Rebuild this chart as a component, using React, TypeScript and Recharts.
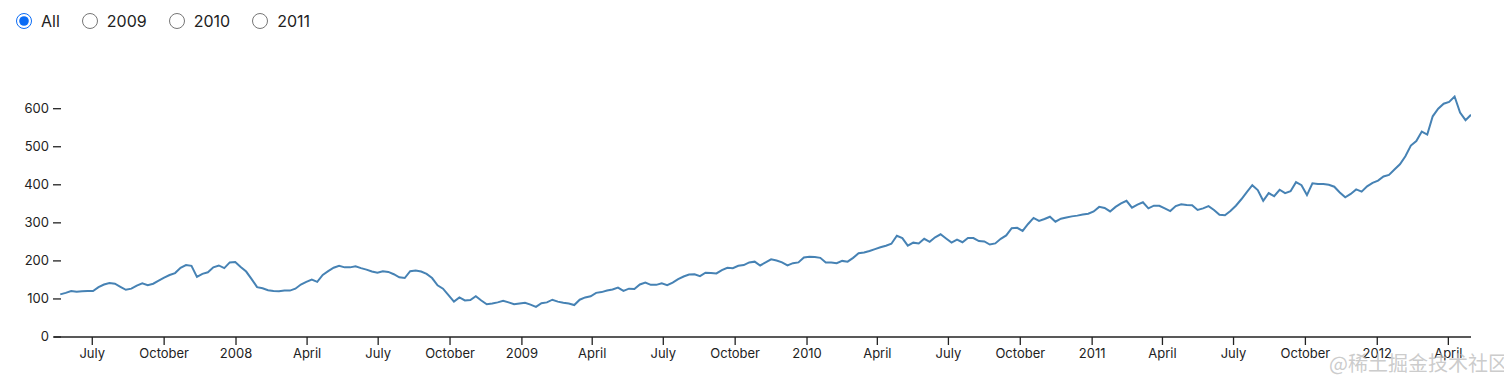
import { LineChart, Line, XAxis, YAxis } from "recharts";

// weekly closing prices, first week starting START_DATE
const START_DATE = "2007-05-21";
const DOMAIN_START = "2007-05-13";
const DOMAIN_END = "2012-04-30";

const closes = [
  112, 116, 121, 119, 120, 121, 121, 131, 138, 142,
  140, 132, 124, 127, 135, 141, 136, 140, 148, 156,
  163, 168, 182, 189, 187, 158, 166, 170, 183, 188,
  181, 196, 197, 184, 172, 152, 131, 128, 123, 121,
  120, 122, 122, 127, 138, 145, 151, 145, 163, 173,
  182, 187, 183, 183, 186, 181, 177, 172, 169, 173,
  171, 165, 157, 155, 173, 175, 172, 166, 155, 136,
  127, 110, 93, 104, 96, 97, 107, 96, 86, 88,
  91, 95, 91, 86, 88, 90, 85, 79, 89, 91,
  98, 93, 90, 88, 84, 98, 104, 107, 116, 118,
  122, 125, 130, 121, 127, 126, 138, 143, 137, 137,
  141, 136, 143, 152, 159, 164, 165, 160, 169, 168,
  167, 176, 182, 181, 187, 189, 196, 198, 188, 196,
  204, 201, 196, 188, 194, 196, 209, 211, 210, 208,
  196, 196, 194, 200, 198, 208, 220, 222, 226, 231,
  236, 240, 245, 266, 260, 240, 248, 246, 258, 250,
  262, 270, 259, 248, 256, 249, 260, 260, 252, 251,
  243, 246, 258, 267, 286, 287, 279, 297, 313, 305,
  310, 316, 303, 311, 314, 317, 319, 322, 324, 330,
  342, 339, 330, 342, 351, 358, 340, 348, 354, 338,
  345, 345, 338, 331, 344, 349, 347, 346, 334, 338,
  344, 334, 321, 320, 331, 345, 362, 381, 399, 386,
  358, 378, 370, 387, 378, 383, 407, 399, 373, 404,
  402, 402, 400, 395, 380, 367, 376, 388, 382, 396,
  405, 411, 422, 426, 440, 454, 475, 503, 515, 540,
  532, 580, 600, 613, 618, 632, 590, 570, 584
];

const Y_MAX = 636;
const yTicks = [0, 100, 200, 300, 400, 500, 600];

const xTickDates = [
  "2007-07-01", "2007-10-01", "2008-01-01", "2008-04-01", "2008-07-01",
  "2008-10-01", "2009-01-01", "2009-04-01", "2009-07-01", "2009-10-01",
  "2010-01-01", "2010-04-01", "2010-07-01", "2010-10-01", "2011-01-01",
  "2011-04-01", "2011-07-01", "2011-10-01", "2012-01-01", "2012-04-01"
];

const monthNames = [
  "January", "February", "March", "April", "May", "June",
  "July", "August", "September", "October", "November", "December"
];

const rangeOptions = ["All", "2009", "2010", "2011"];

const DAY = 86400000;
const data = closes.map((close, i) => ({
  date: Date.parse(START_DATE) + i * 7 * DAY,
  close
}));

const FONT = "Inter, 'Noto Sans', sans-serif";
const INK = "#222";
const PLOT_LEFT = 46;

const formatTick = (t: number) => {
  const d = new Date(t);
  const m = d.getUTCMonth();
  return m === 0 ? String(d.getUTCFullYear()) : monthNames[m];
};

function YTick({ y, payload }: { y?: number; payload?: { value: number } }) {
  return (
    <g>
      <line x1={PLOT_LEFT - 1} x2={PLOT_LEFT + 7} y1={y} y2={y} stroke={INK} strokeWidth={1.3} />
      <text x={PLOT_LEFT - 5} y={y} dy="0.34em" textAnchor="end" fontSize={13} fill={INK} fontFamily={FONT}>
        {payload?.value}
      </text>
    </g>
  );
}

export default function App() {
  return (
    <div style={{ position: "relative", width: 1496, height: 370, fontFamily: FONT }}>
      <div style={{ position: "absolute", left: 8, top: 5, display: "flex", alignItems: "center", height: 16 }}>
        {rangeOptions.map((opt, i) => (
          <label key={opt} style={{ display: "flex", alignItems: "center", marginRight: 22, fontSize: 16, color: INK }}>
            <input
              type="radio"
              name="range"
              defaultChecked={i === 0}
              style={{ width: 16, height: 16, margin: 0, accentColor: "#0b6cf5" }}
            />
            <span style={{ marginLeft: 9 }}>{opt}</span>
          </label>
        ))}
      </div>
      <div style={{ position: "absolute", left: 0, top: 0 }}>
        <LineChart width={1496} height={370} data={data} margin={{ top: 87, right: 33, bottom: 11, left: 0 }}>
          <XAxis
            dataKey="date"
            type="number"
            domain={[Date.parse(DOMAIN_START), Date.parse(DOMAIN_END)]}
            ticks={xTickDates.map((d) => Date.parse(d))}
            tickFormatter={formatTick}
            interval={0}
            height={30}
            tickSize={8}
            tickMargin={4}
            allowDataOverflow
            axisLine={{ stroke: INK, strokeWidth: 1.3 }}
            tickLine={{ stroke: INK, strokeWidth: 1.3 }}
            tick={{ fontSize: 13, fill: INK, fontFamily: FONT }}
          />
          <YAxis
            type="number"
            domain={[0, Y_MAX]}
            ticks={yTicks}
            interval={0}
            width={46}
            axisLine={false}
            tickLine={false}
            tick={<YTick />}
          />
          <Line
            type="linear"
            dataKey="close"
            stroke="#4682b4"
            strokeWidth={2}
            dot={false}
            isAnimationActive={false}
          />
        </LineChart>
      </div>
      <span
        style={{
          position: "absolute",
          right: -4,
          top: 340,
          fontSize: 20,
          color: "rgba(190,190,190,0.8)",
          fontFamily: "'Noto Sans CJK SC', sans-serif",
          whiteSpace: "nowrap"
        }}
      >
        @稀土掘金技术社区
      </span>
    </div>
  );
}
